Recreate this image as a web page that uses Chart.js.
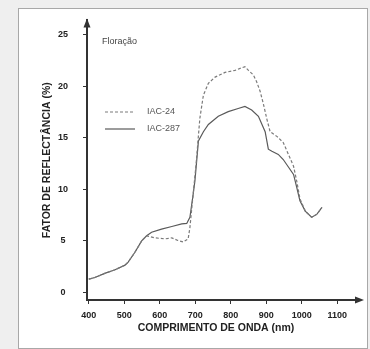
<!DOCTYPE html>
<html>
<head>
<meta charset="utf-8">
<script src="https://cdn.jsdelivr.net/npm/chart.js@4.4.1/dist/chart.umd.min.js"></script>
<style>
  html, body { margin: 0; padding: 0; background: #efefef; }
  #frame { position: absolute; left: 18px; top: 8px; width: 348px; height: 339px; background: #fff; border: 1px solid #a8a8a8; }
  #chart { position: absolute; left: 0; top: 0; }
</style>
</head>
<body>
<div id="frame"></div>
<canvas id="chart" width="370" height="349"></canvas>
<script>
// values (nm, reflectance %)
const wl287 = [400, 417, 445, 474, 502, 511, 530, 549, 563, 577, 605, 634, 662, 676, 685, 694, 699, 709, 723, 737, 765, 793, 821, 840, 859, 878, 897, 906, 916, 934, 948, 962, 977, 986, 995, 1010, 1028, 1043, 1057];
const refl287 = [1.3, 1.45, 1.85, 2.2, 2.65, 2.95, 3.9, 5.0, 5.5, 5.85, 6.15, 6.4, 6.65, 6.7, 7.3, 9.5, 10.8, 14.7, 15.6, 16.3, 17.1, 17.55, 17.85, 18.05, 17.7, 17.1, 15.6, 13.9, 13.7, 13.4, 12.9, 12.2, 11.45, 10.2, 8.9, 7.9, 7.3, 7.6, 8.25];

const wl24 = [400, 417, 445, 474, 502, 511, 530, 549, 563, 586, 615, 634, 651, 666, 680, 685, 694, 702, 713, 723, 737, 756, 784, 812, 831, 840, 850, 864, 873, 883, 892, 902, 911, 930, 948, 967, 977, 986, 995, 1010, 1028, 1043, 1057];
const refl24 = [1.3, 1.45, 1.85, 2.2, 2.65, 2.95, 3.9, 5.0, 5.5, 5.3, 5.2, 5.3, 5.05, 4.9, 5.2, 6.3, 9.5, 12.3, 16.9, 19.15, 20.3, 20.9, 21.35, 21.55, 21.8, 21.9, 21.55, 21.1, 20.45, 19.5, 18.3, 16.8, 15.6, 15.15, 14.55, 13.05, 12.25, 10.8, 9.1, 7.9, 7.3, 7.6, 8.25];

const xTicks = [400, 500, 600, 700, 800, 900, 1000, 1100];
const yTicks = [0, 5, 10, 15, 20, 25];
const seriesNames = ['IAC-24', 'IAC-287'];
const stageLabel = 'Floração';

const FONT = "'Liberation Sans', Arial, sans-serif";

function toPoints(xs, ys) {
  return xs.map((x, i) => ({ x: x, y: ys[i] }));
}

// arrows, legend and stage label
const extras = {
  id: 'extras',
  afterDraw(chart) {
    const ctx = chart.ctx;
    const a = chart.chartArea;
    ctx.save();
    ctx.fillStyle = '#333';
    ctx.strokeStyle = '#333';
    ctx.lineWidth = 2;
    // x axis extension + arrow
    ctx.beginPath();
    ctx.moveTo(a.right, a.bottom);
    ctx.lineTo(a.right + 12, a.bottom);
    ctx.stroke();
    ctx.beginPath();
    ctx.moveTo(a.right + 19, a.bottom);
    ctx.lineTo(a.right + 10, a.bottom - 3.5);
    ctx.lineTo(a.right + 10, a.bottom + 3.5);
    ctx.closePath();
    ctx.fill();
    // y axis arrow
    ctx.beginPath();
    ctx.moveTo(a.left, a.top - 2);
    ctx.lineTo(a.left - 3.5, a.top + 7);
    ctx.lineTo(a.left + 3.5, a.top + 7);
    ctx.closePath();
    ctx.fill();

    // stage label
    ctx.fillStyle = '#444';
    ctx.font = '9px ' + FONT;
    ctx.textBaseline = 'middle';
    ctx.textAlign = 'left';
    ctx.fillText(stageLabel, 102, 42);

    // legend
    chart.data.datasets.forEach((ds, i) => {
      const y = 112 + i * 17;
      ctx.beginPath();
      ctx.lineWidth = 1.2;
      ctx.strokeStyle = ds.borderColor;
      ctx.setLineDash(ds.borderDash || []);
      ctx.moveTo(105, y);
      ctx.lineTo(135, y);
      ctx.stroke();
      ctx.setLineDash([]);
      ctx.fillStyle = '#555';
      ctx.fillText(ds.label, 147, y);
    });
    ctx.restore();
  }
};

new Chart(document.getElementById('chart'), {
  type: 'line',
  data: {
    datasets: [
      {
        label: seriesNames[0],
        data: toPoints(wl24, refl24),
        borderColor: '#7a7a7a',
        borderDash: [3, 2],
        borderWidth: 1.2,
        pointRadius: 0,
        tension: 0
      },
      {
        label: seriesNames[1],
        data: toPoints(wl287, refl287),
        borderColor: '#5a5a5a',
        borderWidth: 1.2,
        pointRadius: 0,
        tension: 0
      }
    ]
  },
  options: {
    responsive: false,
    animation: false,
    layout: { padding: { left: 0, top: 18, right: 25, bottom: 0 } },
    plugins: {
      legend: { display: false },
      tooltip: { enabled: false }
    },
    scales: {
      x: {
        type: 'linear',
        min: 395,
        max: 1122,
        afterBuildTicks: s => { s.ticks = xTicks.map(v => ({ value: v })); },
        afterFit: s => { s.height = 49; },
        grid: { drawOnChartArea: false, drawTicks: true, tickLength: 4, color: '#333', lineWidth: 1 },
        border: { color: '#333', width: 2 },
        ticks: {
          color: '#222',
          padding: 6,
          maxRotation: 0,
          callback: v => String(v),
          font: { family: FONT, size: 9, weight: 'bold' }
        },
        title: {
          display: true,
          text: 'COMPRIMENTO DE ONDA (nm)',
          color: '#222',
          padding: { top: 0, bottom: 15 },
          font: { family: FONT, size: 10.5, weight: 'bold' }
        }
      },
      y: {
        min: -0.73,
        max: 26.4,
        afterBuildTicks: s => { s.ticks = yTicks.map(v => ({ value: v })); },
        afterFit: s => { s.width = 87; },
        grid: { drawOnChartArea: false, drawTicks: true, tickLength: 4, color: '#333', lineWidth: 1 },
        border: { color: '#333', width: 2 },
        ticks: {
          color: '#222',
          padding: 15,
          crossAlign: 'center',
          callback: v => String(v),
          font: { family: FONT, size: 9, weight: 'bold' }
        },
        title: {
          display: true,
          text: 'FATOR DE REFLECTÂNCIA (%)',
          color: '#222',
          padding: { top: 41, bottom: 0 },
          font: { family: FONT, size: 10.5, weight: 'bold' }
        }
      }
    }
  },
  plugins: [extras]
});
</script>
</body>
</html>
